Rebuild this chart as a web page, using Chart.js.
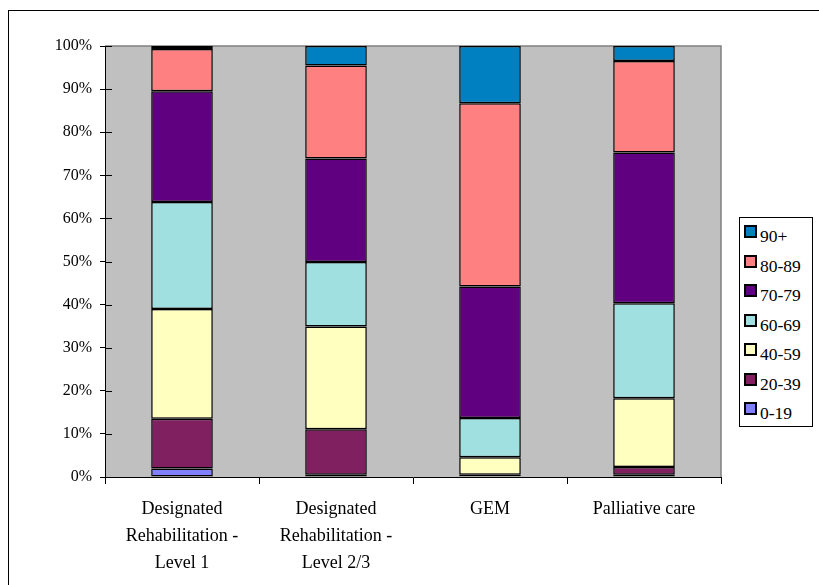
<!DOCTYPE html>
<html lang="en">
<head>
<meta charset="UTF-8">
<title>Age groups by care type</title>
<script src="https://cdn.jsdelivr.net/npm/chart.js"></script>
<style>
    body { margin: 0; background: #fff; }
    #frame { position: absolute; left: 8px; top: 10px; width: 900px; height: 700px; border: 1px solid #000; }
    #wrap { position: absolute; left: 0; top: 0; width: 819px; height: 585px; }
    #legend { position: absolute; left: 739px; top: 217px; width: 72px; height: 208px; border: 1px solid #000; background: #fff;
              font-family: "Liberation Serif", "Times New Roman", serif; font-size: 17.5px; }
    #legend .item { position: relative; height: 29.5px; }
    #legend .box { position: absolute; left: 4px; top: 7px; width: 9px; height: 9px; border: 2px solid #000; }
    #legend .txt { position: absolute; left: 20px; top: 10px; line-height: 17px; white-space: nowrap; }
</style>
</head>
<body>
<div id="frame"></div>
<div id="wrap"><canvas id="grafico" width="819" height="585"></canvas></div>
<div id="legend"></div>
<script>
    // categorias e valores (% de cada faixa etaria)
    const categorias = [
        ["Designated", "Rehabilitation -", "Level 1"],
        ["Designated", "Rehabilitation -", "Level 2/3"],
        "GEM",
        "Palliative care"
    ];
    const faixas = ["0-19", "20-39", "40-59", "60-69", "70-79", "80-89", "90+"];
    const v0_19  = [2.0, 0.5, 0.2, 0.5];
    const v20_39 = [11.5, 10.6, 0.3, 1.8];
    const v40_59 = [25.5, 23.8, 4.1, 16.0];
    const v60_69 = [24.8, 15.0, 9.1, 22.0];
    const v70_79 = [25.7, 24.0, 30.5, 35.0];
    const v80_89 = [9.8, 21.6, 42.5, 21.2];
    const v90    = [0.7, 4.5, 13.3, 3.5];
    const cores  = ["#8080FF", "#802060", "#FFFFC0", "#A0E0E0", "#600080", "#FF8080", "#0080C0"];
    const yTicks = [0, 10, 20, 30, 40, 50, 60, 70, 80, 90, 100];

    const series = [v0_19, v20_39, v40_59, v60_69, v70_79, v80_89, v90];
    const fonte = "'Liberation Serif', 'Times New Roman', serif";

    const datasets = series.map(function (s, i) {
        return {
            label: faixas[i],
            data: s,
            backgroundColor: cores[i],
            borderColor: "#000",
            borderWidth: 1.5,
            borderSkipped: false,
            barPercentage: 0.4,
            categoryPercentage: 1
        };
    });

    // fundo cinza da area do grafico
    const fundo = {
        id: "fundo",
        beforeDraw(chart) {
            const a = chart.chartArea, c = chart.ctx;
            c.save();
            c.fillStyle = "#C0C0C0";
            c.fillRect(a.left, a.top, a.right - a.left, a.bottom - a.top);
            c.strokeStyle = "#808080";
            c.lineWidth = 1.5;
            c.beginPath();
            c.moveTo(a.left, a.top);
            c.lineTo(a.right, a.top);
            c.lineTo(a.right, a.bottom);
            c.stroke();
            c.restore();
        },
        afterDraw(chart) {
            // marcas cruzadas no eixo y
            const y = chart.scales.y, a = chart.chartArea, c = chart.ctx;
            c.save();
            c.strokeStyle = "#000";
            c.lineWidth = 1;
            yTicks.forEach(function (t) {
                const py = Math.round(y.getPixelForValue(t)) + 0.5;
                c.beginPath();
                c.moveTo(a.left, py);
                c.lineTo(a.left + 7, py);
                c.stroke();
            });
            c.restore();
        }
    };

    const grafico = new Chart(document.getElementById("grafico"), {
        type: "bar",
        data: { labels: categorias, datasets: datasets },
        plugins: [fundo],
        options: {
            responsive: false,
            animation: false,
            layout: { padding: { top: 46, right: 98, left: 0, bottom: 0 } },
            plugins: { legend: { display: false }, tooltip: { enabled: false } },
            scales: {
                x: {
                    stacked: true,
                    grid: { display: true, drawOnChartArea: false, offset: true, tickLength: 7, color: "#000" },
                    border: { color: "#000", width: 1 },
                    ticks: { color: "#000", padding: 12, maxRotation: 0, font: { family: fonte, size: 18, lineHeight: 1.5 } },
                    afterFit(scale) { scale.height = 108; }
                },
                y: {
                    stacked: true,
                    min: 0,
                    max: 100,
                    grid: { drawOnChartArea: false, tickLength: 5, color: "#000" },
                    border: { color: "#000", width: 1 },
                    ticks: {
                        stepSize: 10,
                        color: "#000",
                        padding: 8,
                        font: { family: fonte, size: 16 },
                        callback: function (v) { return v + "%"; }
                    },
                    afterFit(scale) { scale.width = 105; }
                }
            }
        }
    });

    // legenda (ordem invertida, 90+ em cima)
    const leg = document.getElementById("legend");
    for (let i = datasets.length - 1; i >= 0; i--) {
        const item = document.createElement("div");
        item.className = "item";
        item.innerHTML = '<span class="box" style="background:' + datasets[i].backgroundColor + '"></span><span class="txt">' + datasets[i].label + '</span>';
        leg.appendChild(item);
    }
</script>
</body>
</html>
